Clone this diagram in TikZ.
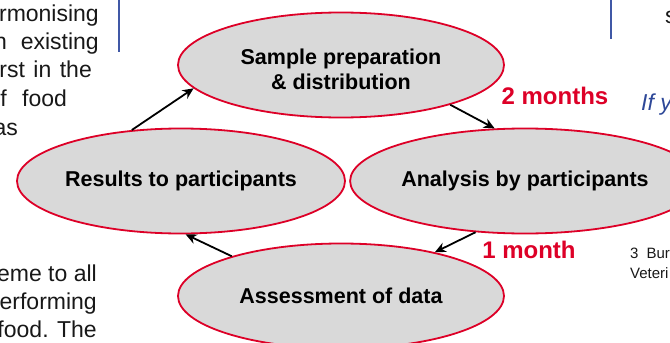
\documentclass[tikz,border=0pt]{standalone}
\usepackage{fontspec}
\setmainfont{Liberation Sans}
\usetikzlibrary{shapes.geometric,arrows.meta}

\definecolor{stagered}{RGB}{221,0,39}
\definecolor{stagefill}{RGB}{217,217,217}
\definecolor{rulerblue}{RGB}{64,88,166}
\definecolor{linkblue}{RGB}{46,72,152}
\definecolor{bodytext}{RGB}{24,24,24}

\newcommand{\coltextfont}{\fontsize{23}{27}\selectfont}
\newcommand{\footfont}{\fontsize{15}{20}\selectfont}

\begin{document}
\begin{tikzpicture}[x=1pt,y=-1pt,
  stage/.style={ellipse,draw=stagered,line width=1.8pt,fill=stagefill,
    inner sep=0pt,minimum width=326pt,minimum height=105pt,
    font=\fontsize{21.5}{25}\selectfont\bfseries,align=center},
  stagetext/.style={font=\fontsize{21.5}{25}\selectfont\bfseries,align=center,inner sep=0pt},
  flow/.style={line width=1.8pt,-{Stealth[length=11pt,width=10pt]}},
  period/.style={text=stagered,font=\fontsize{24}{28}\selectfont\bfseries,inner sep=0pt},
  coltext/.style={text=bodytext,font=\coltextfont,inner sep=0pt},
  foottext/.style={text=bodytext,font=\footfont,inner sep=0pt},
  colrule/.style={draw=rulerblue,line width=2pt}]

\useasboundingbox (0,0) rectangle (670,343);
\clip (0,0) rectangle (670,343);

% running text of the left column
\node[coltext,anchor=base east] (l1) at (99,21) {rmonising};
\node[coltext,anchor=base east] (l2a) at (7,49) {n};
\node[coltext,anchor=base east] (l2b) at (99,49) {existing};
\node[coltext,anchor=base east] (l3) at (92,77) {rst\hspace{8.5pt}in\hspace{8.5pt}the};
\node[coltext,anchor=base east] (l4a) at (7,106) {f};
\node[coltext,anchor=base west] (l4b) at (22,106) {food};
\node[coltext,anchor=base east] (l5) at (18,135) {as};
\node[coltext,anchor=base east] (l6) at (97,281) {eme to all};
\node[coltext,anchor=base east] (l7) at (97,309) {erforming};
\node[coltext,anchor=base east] (l8) at (97,337) {food. The};

% column rules
\draw[colrule] (119,0) -- (119,52);
\draw[colrule] (611,0) -- (611,39);

% text of the right column
\node[coltext,anchor=base west] (r1) at (665,23) {s};
\node[coltext,text=linkblue,font=\coltextfont\itshape,anchor=base west] (r2) at (641,110) {If y};
\node[foottext,anchor=base west] (fn1) at (630,258) {3\hspace{8pt}Bur};
\node[foottext,anchor=base west] (fn2) at (630,278) {Veteri};

% the four stages of the round
\node[stage] (prep) at (341,65) {};
\node[stagetext] (preptext) at (341,69) {Sample preparation\\\& distribution};
\node[stage] (analysis) at (525,181) {Analysis by participants};
\node[stage] (assess) at (341,296) {Assessment of data};
\node[stage,minimum width=328pt] (results) at (181,181) {Results to participants};

% flow between the stages
\draw[flow] (results.134) -- (prep.189);
\draw[flow] (prep.340) -- (analysis.120);
\draw[flow] (analysis.226) -- (assess.25);
\draw[flow] (assess.160) -- (results.275);

% durations
\node[period] (twomonths) at (555,96) {2 months};
\node[period] (onemonth) at (529,250) {1 month};
\end{tikzpicture}
\end{document}
